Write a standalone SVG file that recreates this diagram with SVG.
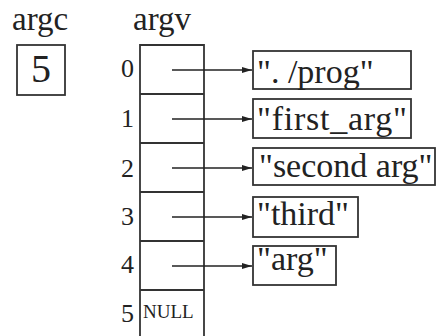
<svg xmlns="http://www.w3.org/2000/svg" width="436" height="336" viewBox="0 0 436 336">
<defs>
<style>
text{font-family:"Liberation Serif","Times New Roman",serif;fill:#222}
.lbl{font-size:33px}
.idx{font-size:26px;text-anchor:end}
.str{font-size:34px}
.box{fill:#fff;stroke:#333;stroke-width:1.8}
.ln{stroke:#333;stroke-width:1.8;fill:none}
.arr{stroke:#222;stroke-width:1.6;fill:none;marker-end:url(#ah)}
</style>
<marker id="ah" viewBox="0 0 10 6" refX="10" refY="3" markerWidth="10" markerHeight="6" markerUnits="userSpaceOnUse" orient="auto">
<path d="M0,0 L10,3 L0,6 Z" fill="#222"/>
</marker>
</defs>
<rect width="436" height="336" fill="#fff"/>
<g id="argc">
<text class="lbl" x="12" y="30">argc</text>
<rect class="box" x="17" y="45" width="48" height="50"/>
<text x="41" y="82" font-size="40" text-anchor="middle">5</text>
</g>
<g id="argv">
<text class="lbl" x="133" y="30">argv</text>
<path class="ln" d="M140,340 V45 H204 V340 M140,94 H204 M140,143 H204 M140,192 H204 M140,241 H204 M140,290 H204"/>
<text class="idx" x="134" y="77">0</text>
<text class="idx" x="134" y="127">1</text>
<text class="idx" x="134" y="177">2</text>
<text class="idx" x="134" y="225">3</text>
<text class="idx" x="134" y="273">4</text>
<text class="idx" x="134" y="322">5</text>
<text x="143" y="318" font-size="19">NULL</text>
</g>
<g id="s0">
<rect class="box" x="253" y="51" width="158" height="38"/>
<text class="str" x="257" y="83">". /prog"</text>
</g>
<g id="s1">
<rect class="box" x="253" y="99" width="158" height="39"/>
<text class="str" x="257" y="130" textLength="150" lengthAdjust="spacing">"first_arg"</text>
</g>
<g id="s2">
<rect class="box" x="253" y="148" width="182" height="37"/>
<text class="str" x="259" y="177">"second arg"</text>
</g>
<g id="s3">
<rect class="box" x="253" y="197" width="105" height="40"/>
<text class="str" x="257" y="225">"third"</text>
</g>
<g id="s4">
<rect class="box" x="253" y="246" width="83" height="39"/>
<text class="str" x="257" y="270">"arg"</text>
</g>
<g id="connectors">
<line class="arr" x1="172" y1="70" x2="252" y2="70"/>
<line class="arr" x1="172" y1="119" x2="252" y2="119"/>
<line class="arr" x1="172" y1="168" x2="252" y2="168"/>
<line class="arr" x1="172" y1="217" x2="252" y2="217"/>
<line class="arr" x1="172" y1="266" x2="252" y2="266"/>
</g>
</svg>
